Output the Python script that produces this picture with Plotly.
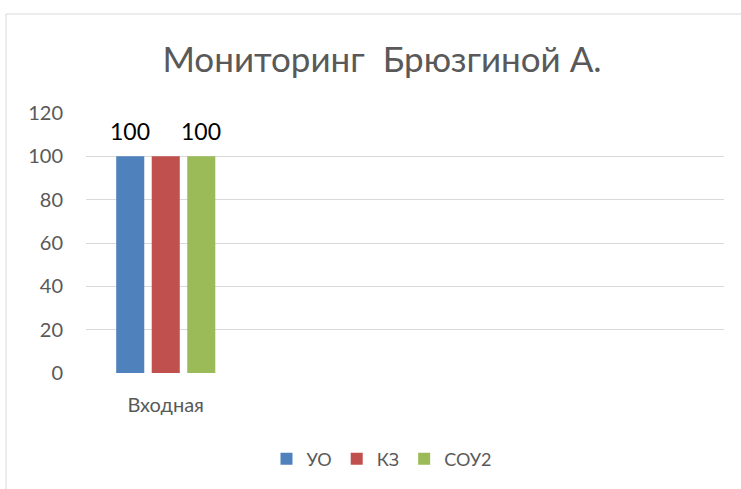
import plotly.graph_objects as go

categories = ["Входная", "", "", ""]
series_names = ["УО", "КЗ", "СОУ2"]
uo = [100, None, None, None]
kz = [100, None, None, None]
sou2 = [100, None, None, None]
y_ticks = [0, 20, 40, 60, 80, 100, 120]

colors = ["#4f81bd", "#c0504d", "#9bbb59"]
labelled = [True, False, True]
FONT = "Lato, Liberation Sans, sans-serif"
GRAY = "#595959"

W, H = 741, 489
L, R, T, B = 86, 17, 113, 116
pw, ph = W - L - R, H - T - B

x_idx = list(range(len(categories)))
fig = go.Figure()
values = [uo, kz, sou2]
for name, vals, col in zip(series_names, values, colors):
    fig.add_trace(go.Bar(x=x_idx, y=vals, name=name, marker_color=col,
                         marker_line_width=0))

bargap, bargroupgap = 0.332, 0.21
cat_px = pw / len(categories)
slot_px = cat_px * (1 - bargap) / len(series_names)
annotations = []
for i, (vals, lab) in enumerate(zip(values, labelled)):
    if not lab:
        continue
    for j, v in enumerate(vals):
        if v is None:
            continue
        annotations.append(dict(x=x_idx[j], y=v, xref="x", yref="y",
                                text=str(v), showarrow=False, yanchor="bottom",
                                yshift=9, xshift=(i - 1) * slot_px,
                                font=dict(family=FONT, size=23, color="black")))

fig.update_layout(
    width=W, height=H,
    margin=dict(l=L, r=R, t=T, b=B),
    paper_bgcolor="white", plot_bgcolor="white",
    barmode="group", bargap=bargap, bargroupgap=bargroupgap,
    title=dict(text="Мониторинг  Брюзгиной А.", x=(382 - L) / pw, xref="paper",
               xanchor="center", y=1 - 60 / H, yanchor="middle",
               font=dict(family=FONT, size=35, color=GRAY)),
    font=dict(family=FONT, color=GRAY),
    xaxis=dict(range=[-0.5, len(categories) - 0.5], tickvals=x_idx, ticktext=categories,
               showgrid=False, zeroline=False, showline=False, ticks="",
               tickfont=dict(size=20, color=GRAY), ticklabelstandoff=18),
    yaxis=dict(range=[0, 120], tickvals=y_ticks, showgrid=True, gridcolor="#d9d9d9",
               gridwidth=1, zeroline=False, showline=False, ticks="",
               tickfont=dict(size=20, color=GRAY), ticklabelstandoff=22),
    legend=dict(orientation="h", x=(382 - L) / pw, xanchor="center",
                y=-(459 - (H - B)) / ph, yanchor="middle",
                font=dict(size=18, color=GRAY), itemwidth=30, traceorder="normal"),
    showlegend=True,
    annotations=annotations,
    shapes=[dict(type="rect", xref="paper", yref="paper",
                 x0=(6 - L) / pw, x1=(800 - L) / pw,
                 y0=-(520 - (H - B)) / ph, y1=1 + (T - 14) / ph,
                 line=dict(color="#d9d9d9", width=1), fillcolor="rgba(0,0,0,0)",
                 layer="below")],
)

fig.write_html("out.html", config={"displayModeBar": False},
               post_script="document.body.style.margin='0';document.body.style.overflow='hidden';")
